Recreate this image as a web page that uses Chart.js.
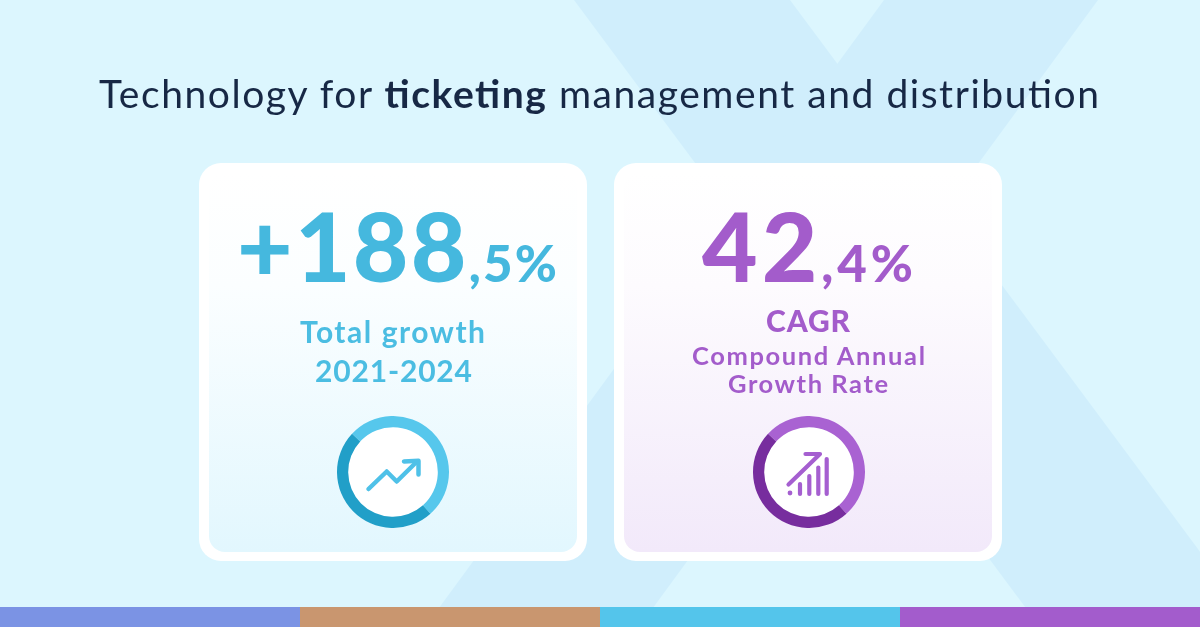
<!DOCTYPE html>
<html>
<head>
<meta charset="utf-8">
<script src="https://cdn.jsdelivr.net/npm/chart.js@4.4.1/dist/chart.umd.min.js"></script>
<style>
  html, body { margin: 0; padding: 0; }
  body { width: 1200px; height: 627px; overflow: hidden; position: relative; background: #dbf5fe; font-family: Lato, "Open Sans", sans-serif; }
  svg.layer { position: absolute; left: 0; top: 0; }
  #bg { z-index: 0; }
  #fg { z-index: 3; }
  canvas.ring { position: absolute; z-index: 2; }
</style>
</head>
<body>
<svg id="bg" class="layer" width="1200" height="627" viewBox="0 0 1200 627">
  <defs>
    <linearGradient id="g1" x1="0" y1="0" x2="0" y2="1">
      <stop offset="0" stop-color="#ffffff"/>
      <stop offset="0.3" stop-color="#fbfeff"/>
      <stop offset="1" stop-color="#e2f7fe"/>
    </linearGradient>
    <linearGradient id="g2" x1="0" y1="0" x2="0" y2="1">
      <stop offset="0" stop-color="#ffffff"/>
      <stop offset="0.3" stop-color="#fdfbfe"/>
      <stop offset="1" stop-color="#f2e9fa"/>
    </linearGradient>
  </defs>
  <rect x="0" y="0" width="1200" height="627" fill="#dcf6fe"/>
  <polygon points="574,0 790,0 1256,627 1040,627" fill="#d0eefc"/>
  <polygon points="884,0 1098,0 639,627 425,627" fill="#d0eefc"/>
  <rect x="199" y="163" width="388" height="398" rx="22" fill="#ffffff"/>
  <rect x="209" y="172" width="368" height="380" rx="16" fill="url(#g1)"/>
  <rect x="614" y="163" width="388" height="398" rx="22" fill="#ffffff"/>
  <rect x="624" y="172" width="368" height="380" rx="16" fill="url(#g2)"/>
  <rect x="0" y="607" width="300" height="20" fill="#7b93e4"/>
  <rect x="300" y="607" width="300" height="20" fill="#c9966f"/>
  <rect x="600" y="607" width="300" height="20" fill="#54c5eb"/>
  <rect x="900" y="607" width="300" height="20" fill="#a35ccc"/>
</svg>

<canvas id="ring1" class="ring" width="112" height="112" style="left:337px;top:416px;width:112px;height:112px"></canvas>
<canvas id="ring2" class="ring" width="112" height="112" style="left:753px;top:416px;width:112px;height:112px"></canvas>

<svg id="fg" class="layer" width="1200" height="627" viewBox="0 0 1200 627" font-family="Lato, 'Open Sans', sans-serif">
  <text id="title" x="599" y="108" text-anchor="middle" font-size="39" fill="#172845" textLength="1000" lengthAdjust="spacing">Technology for <tspan font-weight="700">ticketing</tspan> management and distribution</text>

  <text id="big1" x="397" y="282" text-anchor="middle" fill="#45b8de" font-weight="900" textLength="320" lengthAdjust="spacing"><tspan id="big1a" font-size="96"></tspan><tspan id="big1b" font-size="51"></tspan></text>
  <text id="lab1a" x="392.5" y="343" text-anchor="middle" font-size="30" font-weight="700" fill="#4bbde2" textLength="185" lengthAdjust="spacing"></text>
  <text id="lab1b" x="393.5" y="382" text-anchor="middle" font-size="30" font-weight="700" fill="#4bbde2" textLength="157" lengthAdjust="spacing"></text>

  <text id="big2" x="807.5" y="282" text-anchor="middle" fill="#a35ccb" font-weight="900" textLength="211" lengthAdjust="spacing"><tspan id="big2a" font-size="96"></tspan><tspan id="big2b" font-size="51"></tspan></text>
  <text id="lab2a" x="808" y="332" text-anchor="middle" font-size="30" font-weight="900" fill="#a35ccb" textLength="84" lengthAdjust="spacing"></text>
  <text id="lab2b" x="808.5" y="365" text-anchor="middle" font-size="25.5" font-weight="700" fill="#a35ccb" textLength="233" lengthAdjust="spacing"></text>
  <text id="lab2c" x="808" y="393" text-anchor="middle" font-size="25.5" font-weight="700" fill="#a35ccb" textLength="160" lengthAdjust="spacing"></text>

  <!-- icon 1: trending up -->
  <g fill="none" stroke="#4fc1e8" stroke-width="4.5" stroke-linecap="round" stroke-linejoin="round">
    <polyline points="368.5,489 386.7,471.5 396.7,481.5 417,461.5"/>
    <polyline points="404,461.5 418.5,460.8 418.5,474.5"/>
  </g>
  <!-- icon 2: bars with arrow -->
  <g fill="none" stroke="#a55fd0" stroke-width="4.2" stroke-linecap="round" stroke-linejoin="round">
    <line x1="800" y1="484" x2="800" y2="494"/>
    <line x1="809.3" y1="476" x2="809.3" y2="494"/>
    <line x1="818.3" y1="467.5" x2="818.3" y2="494"/>
    <line x1="826.7" y1="459" x2="826.7" y2="494"/>
    <polyline points="805.5,454 820,454 788.5,484.5"/>
  </g>
  <circle cx="790" cy="493" r="2.4" fill="#a55fd0"/>
</svg>

<script>
// ---- data ----
const bigValues = ["+188", "42"];
const bigDecimals = [",5%", ",4%"];
const card1Labels = ["Total growth", "2021-2024"];
const card2Labels = ["CAGR", "Compound Annual", "Growth Rate"];
const ringLabels = ["Light arc", "Dark arc"];
const growthRing = [51.4, 48.6];
const cagrRing = [51.4, 48.6];
const growthColors = ["#56c7ec", "#219fc8"];
const cagrColors = ["#a962d2", "#772d9e"];

// ---- text ----
document.getElementById('big1a').textContent = bigValues[0];
document.getElementById('big1b').textContent = bigDecimals[0];
document.getElementById('big2a').textContent = bigValues[1];
document.getElementById('big2b').textContent = bigDecimals[1];
document.getElementById('lab1a').textContent = card1Labels[0];
document.getElementById('lab1b').textContent = card1Labels[1];
document.getElementById('lab2a').textContent = card2Labels[0];
document.getElementById('lab2b').textContent = card2Labels[1];
document.getElementById('lab2c').textContent = card2Labels[2];

// ---- rings ----
const innerDisc = {
  id: 'innerDisc',
  beforeDatasetsDraw(chart) {
    const arc = chart.getDatasetMeta(0).data[0];
    if (!arc) return;
    const ctx = chart.ctx;
    ctx.save();
    ctx.beginPath();
    ctx.arc(arc.x, arc.y, arc.innerRadius + 0.5, 0, Math.PI * 2);
    ctx.fillStyle = '#ffffff';
    ctx.fill();
    ctx.restore();
  }
};

function makeRing(id, values, colors) {
  return new Chart(document.getElementById(id), {
    type: 'doughnut',
    data: {
      labels: ringLabels,
      datasets: [{ data: values, backgroundColor: colors, borderWidth: 0, hoverOffset: 0, offset: 0 }]
    },
    options: {
      responsive: false,
      animation: false,
      rotation: -47,
      cutout: '80%',
      layout: { padding: 0 },
      events: [],
      plugins: { legend: { display: false }, tooltip: { enabled: false } }
    },
    plugins: [innerDisc]
  });
}
makeRing('ring1', growthRing, growthColors);
makeRing('ring2', cagrRing, cagrColors);
</script>
</body>
</html>
